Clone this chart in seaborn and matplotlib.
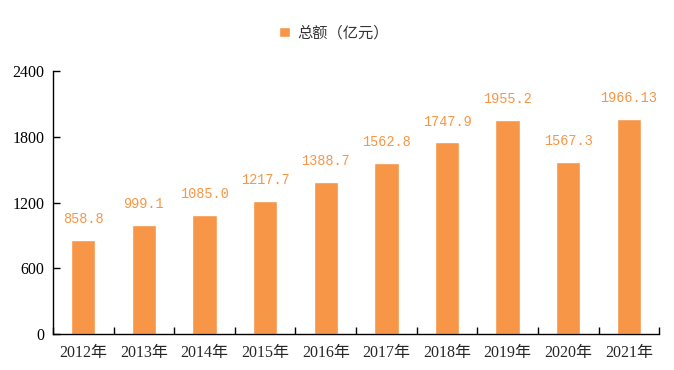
"""Bar chart of yearly totals (亿元), 2012-2021."""
import pandas as pd
import matplotlib
matplotlib.use("Agg")
import matplotlib.pyplot as plt
import seaborn as sns

years = ["2012年", "2013年", "2014年", "2015年", "2016年",
         "2017年", "2018年", "2019年", "2020年", "2021年"]
totals = [858.8, 999.1, 1085.0, 1217.7, 1388.7,
          1562.8, 1747.9, 1955.2, 1567.3, 1966.13]
value_labels = ["858.8", "999.1", "1085.0", "1217.7", "1388.7",
                "1562.8", "1747.9", "1955.2", "1567.3", "1966.13"]
y_ticks = [0, 600, 1200, 1800, 2400]

ORANGE = "#F79646"

sns.set_style("ticks")
plt.rcParams["font.family"] = ["Liberation Serif", "Noto Sans CJK SC", "DejaVu Sans"]
plt.rcParams["axes.unicode_minus"] = False

df = pd.DataFrame({"year": years, "total": totals})

fig = plt.figure(figsize=(6.74, 3.70), dpi=100)
ax = fig.add_axes([0.0786, 0.0973, 0.8994, 0.7107])

sns.barplot(data=df, x="year", y="total", color=ORANGE, saturation=1,
            width=0.4, ax=ax, label="总额（亿元）")

for i, (v, lab) in enumerate(zip(totals, value_labels)):
    ax.annotate(lab, (i, v), xytext=(0, 10), textcoords="offset points",
                ha="center", va="bottom", color=ORANGE, fontsize=9.8,
                family=["Liberation Mono", "DejaVu Sans Mono"])

ax.set_ylim(0, 2400)
ax.set_yticks(y_ticks)
ax.set_xlim(-0.5, 9.5)
ax.set_xticks([x + 0.5 for x in range(-1, 10)], minor=True)
ax.tick_params(axis="x", which="major", length=0, labelsize=11.5, pad=8)
ax.tick_params(axis="x", which="minor", direction="in", length=5, width=1, color="black")
ax.tick_params(axis="y", direction="in", length=5, width=1, labelsize=11.5, pad=6,
               colors="black")
ax.set_xlabel("")
ax.set_ylabel("")
for side in ["top", "right"]:
    ax.spines[side].set_visible(False)
for side in ["left", "bottom"]:
    ax.spines[side].set_color("black")
    ax.spines[side].set_linewidth(1)

leg = ax.legend(loc="center", bbox_to_anchor=(0.464, 1.145), frameon=False,
                handlelength=0.7, handleheight=0.7, handletextpad=0.5,
                prop={"family": ["Noto Sans CJK SC"], "size": 11})
for t in leg.get_texts():
    t.set_color("#333333")

fig.savefig("out.png", dpi=100)
plt.close(fig)
